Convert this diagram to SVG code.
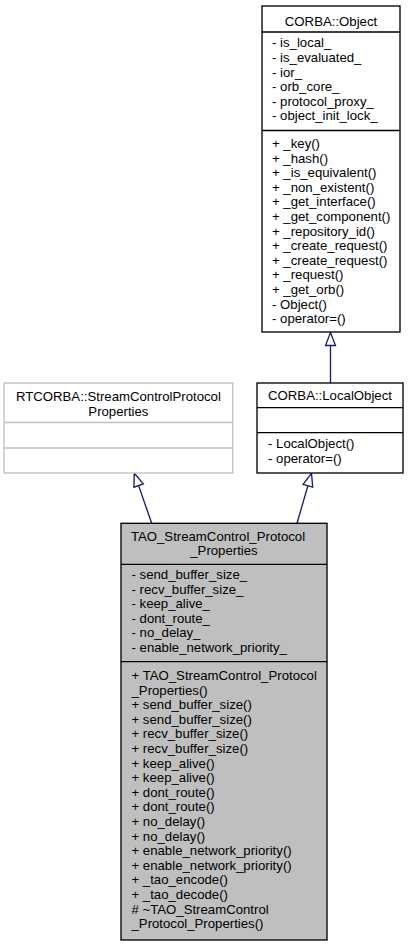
<svg xmlns="http://www.w3.org/2000/svg" width="409" height="944" viewBox="0 0 409 944">
<style>
text{font-family:"Liberation Sans",Arial,Helvetica,sans-serif;font-size:13.2px;fill:#000}
.c{text-anchor:middle}
.box{fill:#fff;stroke:#000;stroke-width:1.33}
.ext{fill:#fff;stroke:#bfbfbf;stroke-width:1.33}
.cur{fill:#bfbfbf;stroke:#000;stroke-width:1.33}
.sep{stroke:#000;stroke-width:1.33}
.sepg{stroke:#bfbfbf;stroke-width:1.33}
.edge{fill:none;stroke:#191970;stroke-width:1.33}
.head{fill:#fff;stroke:#191970;stroke-width:1.33}
</style>
<rect width="409" height="944" fill="#fff"/>
<g id="connectors">
<path class="edge" d="M330.5,383 L330.5,345.5"/>
<polygon class="head" points="330.5,332.5 335.5,345.5 325.5,345.5"/>
<path class="edge" d="M151.7,523.3 L138.6,485.6"/>
<polygon class="head" points="134.3,473.3 143.3,483.9 133.9,487.2"/>
<path class="edge" d="M297,523.3 L307.9,485.8"/>
<polygon class="head" points="311.5,473.3 312.7,487.2 303.1,484.4"/>
</g>
<g id="node-corba-object">
<rect class="box" x="262" y="6" width="138" height="326"/>
<line class="sep" x1="262" y1="32" x2="400" y2="32"/>
<line class="sep" x1="262" y1="130.5" x2="400" y2="130.5"/>
<text class="c" x="331" y="25.5">CORBA::Object</text>
<text x="272" y="47.3">- is_local_</text>
<text x="272" y="61.9">- is_evaluated_</text>
<text x="272" y="76.5">- ior_</text>
<text x="272" y="91.1">- orb_core_</text>
<text x="272" y="105.7">- protocol_proxy_</text>
<text x="272" y="120.3">- object_init_lock_</text>
<text x="272" y="148">+ _key()</text>
<text x="272" y="162.6">+ _hash()</text>
<text x="272" y="177.2">+ _is_equivalent()</text>
<text x="272" y="191.8">+ _non_existent()</text>
<text x="272" y="206.4">+ _get_interface()</text>
<text x="272" y="221">+ _get_component()</text>
<text x="272" y="235.6">+ _repository_id()</text>
<text x="272" y="250.2">+ _create_request()</text>
<text x="272" y="264.8">+ _create_request()</text>
<text x="272" y="279.4">+ _request()</text>
<text x="272" y="294">+ _get_orb()</text>
<text x="272" y="308.6">- Object()</text>
<text x="272" y="323.2">- operator=()</text>
</g>
<g id="node-rtcorba">
<rect class="ext" x="4" y="383" width="228.7" height="90"/>
<line class="sepg" x1="4" y1="422.5" x2="232.7" y2="422.5"/>
<line class="sepg" x1="4" y1="448" x2="232.7" y2="448"/>
<text class="c" x="118.4" y="401">RTCORBA::StreamControlProtocol</text>
<text class="c" x="118.4" y="415.6">Properties</text>
</g>
<g id="node-localobject">
<rect class="box" x="257" y="383" width="146" height="90"/>
<line class="sep" x1="257" y1="407.7" x2="403" y2="407.7"/>
<line class="sep" x1="257" y1="432.7" x2="403" y2="432.7"/>
<text class="c" x="330" y="400">CORBA::LocalObject</text>
<text x="268" y="448.3">- LocalObject()</text>
<text x="268" y="462.9">- operator=()</text>
</g>
<g id="node-tao">
<rect class="cur" x="121" y="523.3" width="206" height="416.7"/>
<line class="sep" x1="121" y1="564.3" x2="327" y2="564.3"/>
<line class="sep" x1="121" y1="661.7" x2="327" y2="661.7"/>
<text class="c" x="218" y="540.5">TAO_StreamControl_Protocol</text>
<text class="c" x="224" y="555">_Properties</text>
<text x="131.5" y="579">- send_buffer_size_</text>
<text x="131.5" y="593.6">- recv_buffer_size_</text>
<text x="131.5" y="608.2">- keep_alive_</text>
<text x="131.5" y="622.8">- dont_route_</text>
<text x="131.5" y="637.4">- no_delay_</text>
<text x="131.5" y="652">- enable_network_priority_</text>
<text x="131.5" y="680">+ TAO_StreamControl_Protocol</text>
<text x="131.5" y="694.6">_Properties()</text>
<text x="131.5" y="709.2">+ send_buffer_size()</text>
<text x="131.5" y="723.8">+ send_buffer_size()</text>
<text x="131.5" y="738.4">+ recv_buffer_size()</text>
<text x="131.5" y="753">+ recv_buffer_size()</text>
<text x="131.5" y="767.6">+ keep_alive()</text>
<text x="131.5" y="782.2">+ keep_alive()</text>
<text x="131.5" y="796.8">+ dont_route()</text>
<text x="131.5" y="811.4">+ dont_route()</text>
<text x="131.5" y="826">+ no_delay()</text>
<text x="131.5" y="840.6">+ no_delay()</text>
<text x="131.5" y="855.2">+ enable_network_priority()</text>
<text x="131.5" y="869.8">+ enable_network_priority()</text>
<text x="131.5" y="884.4">+ _tao_encode()</text>
<text x="131.5" y="899">+ _tao_decode()</text>
<text x="131.5" y="913.6"># ~TAO_StreamControl</text>
<text x="131.5" y="928.2">_Protocol_Properties()</text>
</g>
</svg>
